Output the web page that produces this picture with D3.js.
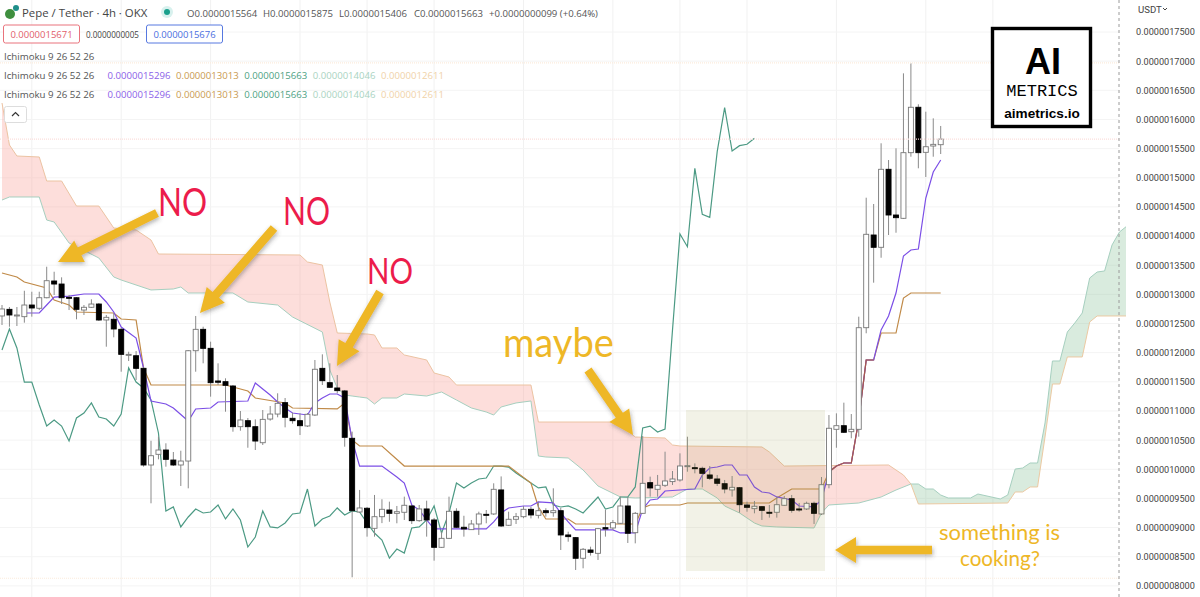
<!DOCTYPE html>
<html>
<head>
<meta charset="utf-8">
<script src="https://cdn.jsdelivr.net/npm/d3@7"></script>
<style>
  body { margin: 0; background: #fff; }
  text { font-family: "Open Sans", sans-serif; }
</style>
</head>
<body>
<div id="chart"></div>
<script>
// all prices in units of 1e-10 USDT, x values are bar numbers
const priceTicks = [17500, 17000, 16500, 16000, 15500, 15000, 14500, 14000, 13500, 13000, 12500,
  12000, 11500, 11000, 10500, 10000, 9500, 9000, 8500, 8000];
const timeGridBars = [4, 16, 28, 40, 49, 58, 70, 82, 91, 100, 112, 124, 133];
const dayHigh = 16970, lastClose = 15663, dayLow = 8130;

// open, high, low, close
const candles = [
  [12629,12817,12474,12749],[12743,12783,12445,12646],[12629,12783,12457,12646],[12617,13062,12514,12817],
  [12817,13045,12617,12766],[12761,13045,12731,12942],[12942,13474,12932,13234],[13229,13388,12989,13177],
  [13177,13292,12834,12942],[12949,12989,12731,12932],[12942,12954,12572,12743],[12731,12817,12646,12778],
  [12778,12915,12766,12834],[12834,12851,12543,12560],[12560,12646,12102,12606],[12572,12675,12263,12406],
  [12400,12423,11673,11971],[11959,12016,11856,11971],[11947,12028,11531,11731],[11731,11754,10044,10073],
  [10073,10489,9416,10232],[10256,10558,10170,10330],[10330,10445,10044,10170],[10158,10296,10055,10073],
  [10073,10318,9713,10141],[10141,12045,9673,12033],[12033,12629,11673,12400],[12400,12445,11817,12074],
  [12074,12188,11245,11485],[11514,11817,11445,11492],[11502,11560,10987,11440],[11428,11445,10644,10730],
  [10730,10999,10661,10845],[10833,10879,10369,10730],[10730,10856,10330,10484],[10455,11016,10416,10856],
  [10861,11085,10833,10947],[10947,11303,10891,11131],[11142,11222,10719,10891],[10874,10970,10782,10833],
  [10833,10959,10587,10747],[10742,10965,10725,10943],[10930,11874,10913,11715],[11731,11971,11445,11519],
  [11485,11817,11394,11406],[11394,11616,11303,11348],[11343,11360,10387,10548],[10531,10645,8146,9289],
  [9267,9645,9250,9336],[9331,9353,8844,8998],[8987,9559,8844,9186],[9186,9485,9076,9313],
  [9301,9444,9099,9244],[9244,9370,9073,9272],[9262,9530,9130,9382],[9370,9387,9061,9118],
  [9118,9387,9099,9319],[9319,9461,8844,9130],[9130,9164,8432,8661],[8661,8929,8649,8815],
  [8815,9530,8803,9279],[9279,9331,8993,9005],[9005,9202,8844,8976],[8964,9130,8959,9061],
  [9061,9272,8873,9233],[9227,9301,9073,9216],[9233,9759,9216,9656],[9645,9877,9010,9027],
  [9039,9272,9027,9142],[9142,9250,9061,9186],[9186,9370,9160,9313],[9313,9353,9156,9216],
  [9210,9444,9156,9289],[9289,9331,9186,9255],[9255,9673,9186,9289],[9289,9336,8615,8873],
  [8873,8929,8757,8844],[8827,8838,8272,8473],[8473,8649,8301,8627],[8615,8672,8519,8575],
  [8558,8993,8444,8981],[8998,9301,8844,8976],[8993,9130,8959,9084],[9073,9530,9061,9370],
  [9370,9525,8735,8902],[8912,9267,8729,9244],[9244,10570,9233,9759],[9770,9873,9530,9679],
  [9656,9902,9530,9725],[9725,10301,9696,9799],[9788,9970,9730,9833],[9816,10273,9788,10056],
  [10044,10558,9958,10061],[10027,10101,9930,10010],[10016,10044,9690,9930],[9902,10056,9816,9845],
  [9833,9902,9713,9759],[9752,9816,9587,9661],[9645,9884,9530,9690],[9683,9696,9255,9392],
  [9387,9444,9272,9347],[9324,9456,9244,9365],[9358,9370,9130,9296],[9262,9387,9170,9250],
  [9262,9530,9170,9392],[9382,9542,9370,9495],[9495,9559,9255,9296],[9319,9422,9272,9301],
  [9319,9444,9301,9416],[9416,9444,9061,9244],[9233,9867,9216,9735],[9735,10930,9673,10703],
  [10685,10959,10369,10747],[10747,11142,10622,10634],[10644,10947,10531,10685],[10685,12617,10559,12428],
  [12428,14658,12332,14030],[14018,14550,13200,13807],[13807,15591,13628,15145],[15145,15304,14018,14361],
  [14361,15505,14057,14315],[14304,16791,14292,15430],[15430,16963,15361,16209],[16209,16260,15162,15430],
  [15436,16133,15013,15532],[15544,16019,15361,15573],[15567,15888,15407,15663]
];

// conversion line
const tenkan = [[3,12680],[5,12680],[6,12817],[7,12954],[9,12971],[11,13006],[13,13006],[14,12869],[15,12697],
  [16,12440],[18,12251],[19,11737],[20,11171],[22,11119],[23,11051],[25,10828],[26,11034],[28,11051],[29,11154],
  [33,11171],[34,11480],[36,11274],[37,11154],[38,11051],[39,10965],[41,10931],[42,11137],[43,11222],[44,11291],
  [45,11291],[46,11222],[47,10501],[48,10055],[51,10055],[53,9867],[54,9764],[55,9387],[56,9301],[57,9130],
  [58,8976],[65,8976],[66,9096],[67,9250],[68,9336],[70,9370],[71,9370],[72,9439],[74,9422],[75,9250],[76,9096],
  [77,8959],[82,8959],[83,8907],[85,8907],[86,9318],[87,9473],[88,9490],[89,9627],[93,9661],[94,9901],[95,10021],
  [96,10038],[97,10073],[98,10073],[99,9901],[100,9901],[101,9696],[102,9610],[103,9593],[104,9525],[106,9473],
  [107,9370],[109,9353],[110,9473],[111,9953],[112,10056],[113,10107],[114,10107],[115,10845],[116,11874],
  [117,11874],[118,12389],[119,12629],[120,13023],[121,13658],[122,13761],[123,13778],[124,14652],[125,15098],
  [126,15304]];

// base line
const kijun = [[0,13366],[2,13298],[3,13212],[6,13109],[7,12903],[9,12817],[10,12697],[15,12680],[16,12577],
  [18,12560],[19,11737],[20,11445],[30,11445],[33,11343],[34,11222],[38,11137],[39,11051],[45,11034],[46,11137],
  [47,10501],[48,10399],[51,10399],[54,10055],[68,10055],[71,9764],[72,9353],[73,9147],[76,9147],[77,9061],
  [85,9061],[86,9335],[87,9387],[91,9387],[92,9421],[103,9421],[104,9507],[106,9661],[110,9661],[111,9953],
  [112,10056],[113,10107],[114,10107],[115,10845],[116,11874],[117,11874],[118,12337],[120,12337],[121,12937],
  [122,13023],[126,13023]];

// lagging span, one value per bar
const chikou = [12045,12406,12080,11496,11496,11102,10741,10845,10741,10484,10879,10965,11137,10896,10862,10741,
  10947,11737,11496,11394,11188,10622,9284,9353,9010,9181,9318,9250,9267,9387,9147,9318,9130,8666,8838,9284,9010,
  8993,9078,9233,9250,9661,9027,9147,9198,9336,9216,9284,9267,9078,8906,8786,8477,8632,8563,8992,9010,9130,9370,
  8906,9250,9764,9679,9764,9833,9850,10055,10055,10038,9936,9850,9764,9679,9696,9387,9353,9370,9318,9250,9387,
  9524,9318,9353,9524,9524,9696,10708,10741,10639,10690,12388,14035,13817,15162,14373,14322,15447,16202,15459,
  15550,15574,15677];

// bearish part of the cloud
const redTop = [[0,16282],[1,15562],[2,15373],[5,15356],[6,14944],[8,14944],[10,14515],[13,14515],[15,14138],
  [18,14104],[20,13932],[21,13692],[40,13675],[41,13555],[43,13503],[44,12869],[45,12337],[49,12320],[50,12303],
  [51,12080],[53,12080],[54,11960],[57,11874],[58,11651],[60,11582],[61,11445],[71,11445],[72,10810],[82,10810],
  [84,10656],[85,10553],[89,10536],[90,10416],[91,10399],[102,10382],[103,10296],[105,10055],[119,10073],
  [120,9987],[121,9901],[122,9747]];
const redBottom = [[0,14618],[1,14670],[5,14670],[6,14275],[7,14241],[9,13881],[13,13624],[15,13298],[16,13246],
  [20,13075],[23,13092],[24,13126],[25,13023],[31,13023],[33,12869],[37,12817],[39,12611],[43,12354],[44,11702],
  [45,11394],[46,11274],[47,11256],[48,11239],[49,11222],[50,11119],[51,11222],[53,11222],[54,11291],[57,11256],
  [59,11325],[61,11188],[63,11051],[65,10982],[66,10930],[67,11068],[69,11137],[71,11171],[72,10227],[73,10210],
  [76,10193],[78,9987],[80,9713],[83,9525],[85,9507],[90,9524],[92,9661],[94,9661],[96,9507],[97,9370],[99,9250],
  [101,9078],[102,9027],[104,9010],[109,8993],[110,9250],[111,9387],[115,9421],[118,9524],[120,9644],[122,9747]];

// bullish part of the cloud
const greenTop = [[122,9747],[123,9747],[124,9661],[125,9661],[126,9558],[127,9507],[130,9507],[131,9575],
  [134,9490],[135,9558],[136,10004],[137,10021],[138,10107],[139,10107],[140,10793],[141,11857],[142,11857],
  [143,12354],[144,12509],[145,12680],[146,13280],[147,13383],[148,13401],[149,13847],[150,14070],[151,14172]];
const greenBottom = [[122,9747],[123,9404],[135,9421],[136,9610],[137,9610],[138,9696],[139,9696],[140,10553],
  [141,11462],[142,11462],[143,11926],[145,11926],[146,12526],[147,12629],[151,12629]];

const ichimokuValues = ["0.0000015296", "0.0000013013", "0.0000015663", "0.0000014046", "0.0000012611"];
const ichimokuColors = ["#8a5ee8", "#c99a50", "#4c9f82", "#a9d3c1", "#f0d2a8"];

const width = 1200, height = 597;
const gold = "#eeb726", red = "#ec1c4b";

const svg = d3.select("#chart").append("svg")
  .attr("width", width).attr("height", height)
  .style("display", "block");

const defs = svg.append("defs");
defs.append("clipPath").attr("id", "plotClip")
  .append("rect").attr("width", 1126).attr("height", height);
const shadow = defs.append("filter").attr("id", "arrowShadow")
  .attr("x", "-30%").attr("y", "-30%").attr("width", "160%").attr("height", "160%");
shadow.append("feDropShadow").attr("dx", 1).attr("dy", 2).attr("stdDeviation", 2)
  .attr("flood-color", "#444").attr("flood-opacity", 0.4);

const x = d3.scaleLinear().domain([0, 151]).range([2, 2 + 7.45 * 151]);
const y = d3.scaleLinear().domain([17500, 8000]).range([32, 32 + 19 * 29.15]);

const line = d3.line().x(d => x(d[0])).y(d => y(d[1]));
const plot = svg.append("g").attr("clip-path", "url(#plotClip)");

// grid
svg.insert("g", "g").selectAll("line").data(priceTicks).join("line")
  .attr("x1", 0).attr("x2", 1119)
  .attr("y1", d => y(d)).attr("y2", d => y(d))
  .attr("stroke", "#f4f4f4");
svg.insert("g", "g").selectAll("line").data(timeGridBars).join("line")
  .attr("x1", d => x(d)).attr("x2", d => x(d))
  .attr("y1", 0).attr("y2", height)
  .attr("stroke", "#f1f1f1");

// dotted high / close / low price lines
const priceLines = [[dayHigh, "#fcebdc"], [lastClose, "#fcdedc"], [dayLow, "#fcebdc"]];
svg.append("g").selectAll("line").data(priceLines).join("line")
  .attr("x1", 0).attr("x2", 1119)
  .attr("y1", d => y(d[0])).attr("y2", d => y(d[0]))
  .attr("stroke", d => d[1]).attr("stroke-width", 1.2)
  .attr("stroke-dasharray", "1 1");

// cloud
plot.append("path").attr("d", line(redTop.concat(redBottom.slice().reverse())) + "Z")
  .attr("fill", "#f9a59c").attr("fill-opacity", 0.37);
plot.append("path").attr("d", line(greenTop.concat(greenBottom.slice().reverse())) + "Z")
  .attr("fill", "#82bc92").attr("fill-opacity", 0.3);
[[redTop, "#ecc3a2"], [redBottom, "#a6cfbf"], [greenTop, "#a6cfbf"], [greenBottom, "#ecc9a2"]].forEach(([pts, col]) => {
  plot.append("path").attr("d", line(pts)).attr("fill", "none").attr("stroke", col).attr("stroke-width", 1);
});

// the shaded box around the squeeze
svg.append("rect").attr("x", 686).attr("y", 410).attr("width", 139).attr("height", 161)
  .attr("fill", "#96963c").attr("fill-opacity", 0.12);

// ichimoku lines
const chikouPts = chikou.map((v, i) => [i, v]);
plot.append("path").attr("d", line(chikouPts)).attr("fill", "none").attr("stroke", "#4c9a84").attr("stroke-width", 1.2);
plot.append("path").attr("d", line(kijun)).attr("fill", "none").attr("stroke", "#c08a48").attr("stroke-width", 1.2);
plot.append("path").attr("d", line(tenkan)).attr("fill", "none").attr("stroke", "#7b4ee6").attr("stroke-width", 1.2);
// where the two lines run on top of each other they look dark red
plot.append("path").attr("d", line(kijun.filter(d => d[0] >= 111 && d[0] <= 117)))
  .attr("fill", "none").attr("stroke", "#a85a4a").attr("stroke-width", 1.2);

// candles
const candle = plot.append("g").selectAll("g").data(candles).join("g");
candle.append("line")
  .attr("x1", (d, i) => x(i)).attr("x2", (d, i) => x(i))
  .attr("y1", d => y(d[1])).attr("y2", d => y(d[2]))
  .attr("stroke", "#8a8a8a").attr("stroke-width", 1);
candle.append("rect")
  .attr("x", (d, i) => x(i) - 2.5).attr("width", 5)
  .attr("y", d => y(Math.max(d[0], d[3])))
  .attr("height", d => Math.max(1, Math.abs(y(d[0]) - y(d[3]))))
  .attr("fill", d => d[3] >= d[0] ? "#fff" : "#000")
  .attr("stroke", d => d[3] >= d[0] ? "#777" : "#000")
  .attr("stroke-width", 0.9);

// price axis
svg.append("line").attr("x1", 1119).attr("x2", 1119).attr("y1", 0).attr("y2", height)
  .attr("stroke", "#9a9a9a").attr("stroke-dasharray", "3 3");
const axis = svg.append("g").attr("transform", "translate(1128,0)")
  .call(d3.axisRight(y).tickValues(priceTicks).tickSize(0).tickPadding(8)
    .tickFormat(d => (d * 1e-10).toFixed(10)));
axis.select(".domain").remove();
axis.selectAll("text").attr("font-size", 9.15).attr("fill", "#444").style("font-family", "Roboto, sans-serif");
svg.append("text").attr("x", 1138).attr("y", 13).attr("font-size", 9.6).attr("fill", "#444")
  .style("font-family", "Roboto, sans-serif").text("USDT");
svg.append("path").attr("d", "M1163 8l2 2 2-2").attr("fill", "none").attr("stroke", "#444");

// legend rows
const legend = svg.append("g");
legend.append("circle").attr("cx", 16).attr("cy", 8).attr("r", 3).attr("fill", "#1f8f8a");
legend.append("circle").attr("cx", 10).attr("cy", 14).attr("r", 5).attr("fill", "#3f8f3f");
legend.append("text").attr("x", 22).attr("y", 17).attr("font-size", 11.4).attr("fill", "#444")
  .text("Pepe / Tether · 4h · OKX");
legend.append("circle").attr("cx", 167).attr("cy", 12).attr("r", 6).attr("fill", "#d8f1ee");
legend.append("circle").attr("cx", 167).attr("cy", 12).attr("r", 3).attr("fill", "#1aa08c");
[["O0.0000015564", 187], ["H0.0000015875", 263], ["L0.0000015406", 339], ["C0.0000015663", 414],
 ["+0.0000000099 (+0.64%)", 489]].forEach(([t, px]) => {
  legend.append("text").attr("x", px).attr("y", 16.5).attr("font-size", 9.6).attr("fill", "#555").text(t);
});

legend.append("rect").attr("x", 3.5).attr("y", 25).attr("width", 76).attr("height", 18).attr("rx", 2)
  .attr("fill", "#fff").attr("stroke", "#e9737c");
legend.append("text").attr("x", 41.5).attr("y", 38).attr("text-anchor", "middle").attr("font-size", 9.5)
  .attr("fill", "#e2606c").text("0.0000015671");
legend.append("text").attr("x", 112.5).attr("y", 38).attr("text-anchor", "middle").attr("font-size", 8.1)
  .attr("fill", "#444").text("0.0000000005");
legend.append("rect").attr("x", 146.5).attr("y", 25).attr("width", 76).attr("height", 18).attr("rx", 2)
  .attr("fill", "#fff").attr("stroke", "#5678e0");
legend.append("text").attr("x", 184.5).attr("y", 38).attr("text-anchor", "middle").attr("font-size", 9.5)
  .attr("fill", "#4a6ee0").text("0.0000015676");

[60, 79, 98].forEach((py, row) => {
  legend.append("text").attr("x", 4).attr("y", py).attr("font-size", 9.7).attr("fill", "#555").text("Ichimoku 9 26 52 26");
  if (row === 0) return;
  ichimokuValues.forEach((v, i) => {
    legend.append("text").attr("x", 107.5 + i * 68.4).attr("y", py).attr("font-size", 9.6)
      .attr("fill", ichimokuColors[i]).text(v);
  });
});

legend.append("rect").attr("x", 4.5).attr("y", 106.5).attr("width", 22).attr("height", 16).attr("rx", 2)
  .attr("fill", "#fff").attr("stroke", "#ddd");
legend.append("path").attr("d", "M12 116l3.5-3.5 3.5 3.5").attr("fill", "none").attr("stroke", "#333").attr("stroke-width", 1.2);

// logo
const logo = svg.append("g");
logo.append("rect").attr("x", 992.5).attr("y", 28.5).attr("width", 98).attr("height", 98)
  .attr("fill", "#fff").attr("stroke", "#000").attr("stroke-width", 3.4);
logo.append("text").attr("x", 1043).attr("y", 74).attr("text-anchor", "middle").attr("font-size", 36)
  .attr("font-weight", 700).style("font-family", "Liberation Sans").text("AI");
logo.append("text").attr("x", 1042).attr("y", 96).attr("text-anchor", "middle").attr("font-size", 17)
  .style("font-family", "Liberation Mono").text("METRICS");
logo.append("text").attr("x", 1042).attr("y", 118).attr("text-anchor", "middle").attr("font-size", 13.6)
  .attr("font-weight", 700).style("font-family", "Liberation Sans").text("aimetrics.io");

// arrows, pixel positions
function arrow(tail, tip, shaftW, headL, headW) {
  const dx = tip[0] - tail[0], dy = tip[1] - tail[1], len = Math.hypot(dx, dy);
  const ux = dx / len, uy = dy / len, nx = -uy, ny = ux;
  const bx = tip[0] - ux * headL, by = tip[1] - uy * headL;
  const p = [
    [tail[0] + nx * shaftW, tail[1] + ny * shaftW],
    [bx + nx * shaftW, by + ny * shaftW],
    [bx + nx * headW, by + ny * headW],
    tip,
    [bx - nx * headW, by - ny * headW],
    [bx - nx * shaftW, by - ny * shaftW],
    [tail[0] - nx * shaftW, tail[1] - ny * shaftW]
  ];
  svg.append("polygon").attr("points", p.join(" ")).attr("fill", gold).attr("filter", "url(#arrowShadow)");
}
arrow([157, 213], [58, 262], 4.3, 24, 12);
arrow([274, 228], [200, 313], 4.3, 24, 12);
arrow([380, 292], [337, 366], 4.3, 24, 12);
arrow([588, 370], [633, 435], 4.3, 24, 12);
arrow([932, 550], [835, 550], 4.3, 21, 13);

// handwritten notes
function note(t, cx, base, size, w, col) {
  svg.append("text").attr("x", cx).attr("y", base).attr("text-anchor", "middle")
    .attr("font-size", size).attr("fill", col)
    .attr("textLength", w).attr("lengthAdjust", "spacingAndGlyphs")
    .style("font-family", "Lato, sans-serif").text(t);
}
note("NO", 182.5, 216, 39, 49, red);
note("NO", 306.5, 225, 39, 47, red);
note("NO", 390, 284, 36, 46, red);
note("maybe", 558.5, 357, 40, 111, gold);
note("something is", 999.5, 540, 22, 121, gold);
note("cooking?", 1000, 566, 22, 80, gold);
</script>
</body>
</html>
